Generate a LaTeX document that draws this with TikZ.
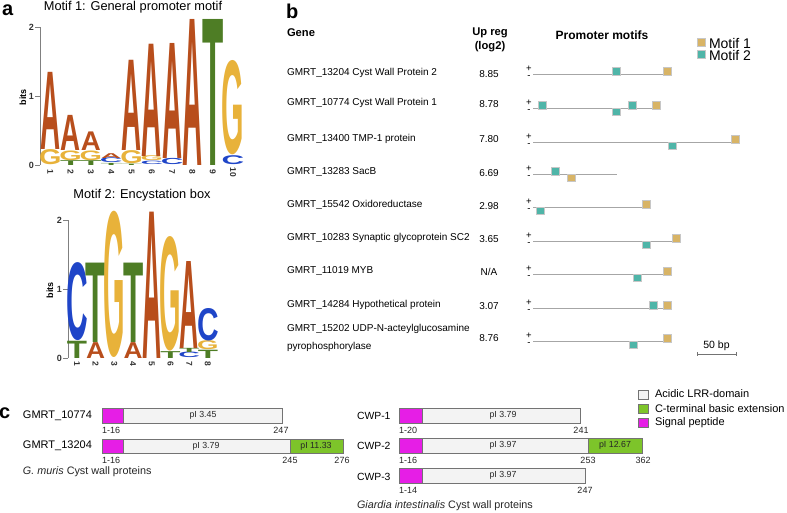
\documentclass[tikz,border=0pt]{standalone}
\usepackage{fontspec}
\setmainfont{Liberation Sans}
\usepackage{graphicx}
\definecolor{lA}{HTML}{B84E1C}
\definecolor{lG}{HTML}{E8B23A}
\definecolor{lT}{HTML}{4E7D25}
\definecolor{lC}{HTML}{1F45C8}
\definecolor{mone}{HTML}{D8B466}
\definecolor{mtwo}{HTML}{4FB5A8}
\definecolor{sigp}{HTML}{E61EE6}
\definecolor{cterm}{HTML}{7DC42A}
\definecolor{lrr}{HTML}{F3F3F3}
\definecolor{axc}{HTML}{808080}
\newcommand{\fsz}[1]{\fontsize{#1}{#1}\selectfont}
\newcommand{\logoL}[5]{%
  \def\lgpad{0}%
  \if G#4\def\lgpad{1.2}\fi
  \if C#4\def\lgpad{1.3}\fi
  \if T#4\def\lgpad{0.6}\fi
  \pgfmathsetmacro\lgX{\lgx+(#1-1)*\lgdx-\lgpad}%
  \pgfmathsetmacro\lgW{\lgw+2*\lgpad}%
  \pgfmathsetmacro\lgB{\lgy-(#2)*\lgbit}%
  \pgfmathsetmacro\lgH{((#3)-(#2))*\lgbit}%
  \node[anchor=south west,inner sep=0pt,outer sep=0pt,text=#5] at (\lgX,\lgB) {\resizebox*{\lgW pt}{\lgH pt}{\bfseries #4}};%
}
\newcommand{\sqp}[3]{\draw[sqb,fill=#3] (#1,#2-6.5) rectangle ++(8.5,7.5);}
\newcommand{\sqm}[3]{\draw[sqb,fill=#3] (#1,#2) rectangle ++(8.5,7.5);}
\tikzset{
  txt/.style={inner sep=0pt,outer sep=0pt},
  panel/.style={txt,anchor=base west,font=\fsz{20}\bfseries},
  ttl/.style={txt,font=\fsz{12.8}},
  axnum/.style={txt,anchor=east,font=\fsz{9}\bfseries,text=black!80},
  colnum/.style={txt,rotate=-90,font=\fsz{8.5}\bfseries,text=black!80},
  axline/.style={draw=axc,line width=0.6pt},
  gene/.style={txt,anchor=west,font=\fsz{10}},
  val/.style={txt,font=\fsz{10}},
  hdr/.style={txt,font=\fsz{11.2}\bfseries},
  strand/.style={txt,font=\fsz{9.5}},
  pline/.style={draw=black!35,line width=0.7pt},
  sqb/.style={draw=black!22,line width=0.5pt},
  cname/.style={txt,anchor=west,font=\fsz{10.6}},
  cbar/.style={draw=black!55,line width=0.6pt},
  pival/.style={txt,font=\fsz{8.8},text=black!85},
  posnum/.style={txt,font=\fsz{9},text=black!85},
  leg/.style={txt,anchor=west,font=\fsz{11}},
}
\begin{document}
\begin{tikzpicture}[x=1pt,y=-1pt]
\useasboundingbox (0,0) rectangle (787,512);
\fill[white] (0,0) rectangle (787,512);

% ---------- panel a ----------
\node[panel] (pa) at (2,15) {a};
\node[ttl] (t1) at (133,7) {Motif 1: General promoter motif};
\draw[axline] (40,27.3) -- (40,165);
\foreach \v/\yy in {0/165,1/96.15,2/27.3}{
  \draw[axline] (35,\yy) -- (40,\yy);
  \node[axnum] (ax1\v) at (34,\yy) {\v};
}
\node[txt,rotate=90,font=\fsz{9}\bfseries] (bits1) at (23,97) {bits};
\def\lgx{40.3}\def\lgdx{20.3}\def\lgw{20}\def\lgy{165}\def\lgbit{68.85}
\logoL{1}{0}{0.22}{G}{lG}
\logoL{1}{0.22}{1.34}{A}{lA}
\logoL{2}{0}{0.07}{T}{lT}
\logoL{2}{0.07}{0.21}{G}{lG}
\logoL{2}{0.21}{0.72}{A}{lA}
\logoL{3}{0}{0.07}{T}{lT}
\logoL{3}{0.07}{0.21}{G}{lG}
\logoL{3}{0.21}{0.48}{A}{lA}
\logoL{4}{0}{0.03}{T}{lT}
\logoL{4}{0.03}{0.1}{C}{lC}
\logoL{4}{0.1}{0.17}{A}{lA}
\logoL{5}{0}{0.02}{T}{lT}
\logoL{5}{0.02}{0.21}{G}{lG}
\logoL{5}{0.21}{1.52}{A}{lA}
\logoL{6}{0.01}{0.06}{C}{lC}
\logoL{6}{0.06}{0.13}{G}{lG}
\logoL{6}{0.13}{1.76}{A}{lA}
\logoL{7}{0}{0.09}{C}{lC}
\logoL{7}{0.09}{1.76}{A}{lA}
\logoL{8}{0}{2.12}{A}{lA}
\logoL{9}{0}{2.12}{T}{lT}
\logoL{10}{0.01}{0.14}{C}{lC}
\logoL{10}{0.15}{1.52}{G}{lG}
\foreach \i in {1,...,10}{
  \pgfmathsetmacro\cx{50.3+(\i-1)*20.3}
  \node[colnum] (n1\i) at (\cx,172) {\i};
}

\node[ttl] (t2) at (142,195) {Motif 2: Encystation box};
\draw[axline] (68,220) -- (68,358);
\foreach \v/\yy in {0/358,1/289,2/220}{
  \draw[axline] (63,\yy) -- (68,\yy);
  \node[axnum] (ax2\v) at (62,\yy) {\v};
}
\node[txt,rotate=90,font=\fsz{9}\bfseries] (bits2) at (50,290) {bits};
\def\lgx{67.5}\def\lgdx{18.7}\def\lgw{19}\def\lgy{358}\def\lgbit{69}
\logoL{1}{0}{0.25}{T}{lT}
\logoL{1}{0.25}{1.38}{C}{lC}
\logoL{2}{0}{0.23}{A}{lA}
\logoL{2}{0.23}{1.38}{T}{lT}
\logoL{3}{0}{2.12}{G}{lG}
\logoL{4}{0}{0.23}{A}{lA}
\logoL{4}{0.23}{1.38}{T}{lT}
\logoL{5}{0}{2.12}{A}{lA}
\logoL{6}{0}{0.1}{T}{lT}
\logoL{6}{0.1}{1.76}{G}{lG}
\logoL{7}{0}{0.08}{C}{lC}
\logoL{7}{0.08}{0.14}{T}{lT}
\logoL{7}{0.14}{1.4}{A}{lA}
\logoL{8}{0}{0.12}{T}{lT}
\logoL{8}{0.12}{0.25}{G}{lG}
\logoL{8}{0.25}{0.72}{C}{lC}
\foreach \i in {1,...,8}{
  \pgfmathsetmacro\cx{77+(\i-1)*18.7}
  \node[colnum] (n2\i) at (\cx,364) {\i};
}

% ---------- panel b ----------
\node[panel] (pb) at (286,18) {b};
\node[hdr,anchor=west] (hg) at (287,33) {Gene};
\node[hdr] (hu) at (490,33) {Up reg};
\node[hdr] (hl) at (490,47) {(log2)};
\node[hdr,font=\fsz{12}\bfseries] (hp) at (602,35) {Promoter motifs};
\draw[sqb,fill=mone] (697,38) rectangle (705.5,46);
\draw[sqb,fill=mtwo] (697,50) rectangle (705.5,58);
\node[leg,font=\fsz{14}] (lm1) at (709,43) {Motif 1};
\node[leg,font=\fsz{14}] (lm2) at (709,55) {Motif 2};

\foreach \k/\ty/\gn/\vv/\ly/\le in {
  1/73/{GMRT\_13204 Cyst Wall Protein 2}/{8.85}/74/670,
  2/103/{GMRT\_10774 Cyst Wall Protein 1}/{8.78}/108/660,
  3/138.5/{GMRT\_13400 TMP-1 protein}/{7.80}/142/739,
  4/172/{GMRT\_13283 SacB}/{6.69}/174/617,
  5/205/{GMRT\_15542 Oxidoreductase}/{2.98}/207/645,
  6/238/{GMRT\_10283 Synaptic glycoprotein SC2}/{3.65}/241/673,
  7/271/{GMRT\_11019 MYB}/{N/A}/274/667,
  8/305/{GMRT\_14284 Hypothetical protein}/{3.07}/308/667}{
  \node[gene] (g\k) at (287,\ty) {\gn};
  \node[val] (v\k) at (489,\ty+1) {\vv};
  \node[strand] (sp\k) at (529,\ly-5.5) {+};
  \node[strand] (sm\k) at (529,\ly+3.5) {-};
  \coordinate (ls\k) at (533,\ly);
  \coordinate (le\k) at (\le,\ly);
  \draw[pline] (ls\k) -- (le\k);
}
\node[gene] (g9a) at (287,329) {GMRT\_15202 UDP-N-acteylglucosamine};
\node[gene] (g9b) at (287,347) {pyrophosphorylase};
\node[val] (v9) at (489,338) {8.76};
\node[strand] (sp9) at (529,335.5) {+};
\node[strand] (sm9) at (529,344.5) {-};
\coordinate (ls9) at (533,341);
\coordinate (le9) at (667,341);
\draw[pline] (ls9) -- (le9);

% squares
\sqp{612}{74}{mtwo} \sqp{663}{74}{mone}
\sqp{538}{108}{mtwo} \sqm{612}{108}{mtwo} \sqp{628}{108}{mtwo} \sqp{652}{108}{mone}
\sqp{731}{142}{mone} \sqm{668}{142}{mtwo}
\sqp{551}{174}{mtwo} \sqm{567}{174}{mone}
\sqp{642}{207}{mone} \sqm{536}{207}{mtwo}
\sqp{672}{241}{mone} \sqm{642}{241}{mtwo}
\sqp{663}{274}{mone} \sqm{633}{274}{mtwo}
\sqp{649}{308}{mtwo} \sqp{663}{308}{mone}
\sqp{663}{341}{mone} \sqm{629}{341}{mtwo}

% scale bar
\coordinate (sb1) at (697,354);
\coordinate (sb2) at (736,354);
\draw[draw=black!55,line width=0.6pt] (sb1) -- (sb2);
\draw[draw=black!55,line width=0.6pt] (697,352) -- (697,356) (736,352) -- (736,356);
\node[txt,font=\fsz{10.5}] (sbl) at (716.5,346) {50 bp};

% ---------- panel c ----------
\node[panel] (pc) at (-1,418.5) {c};
\node[cname,font=\fsz{11}] (c1) at (23,415.5) {GMRT\_10774};
\node[cname,font=\fsz{11}] (c2) at (23,446) {GMRT\_13204};
\node[txt,anchor=west,font=\fsz{10.8},text=black!85] (c3) at (23,472) {\textit{G. muris} Cyst wall proteins};

\draw[cbar,fill=lrr] (102,408) rectangle (282,423);
\draw[cbar,fill=sigp] (102,408) rectangle (123,423);
\node[pival] (p1) at (203,415.5) {pI 3.45};
\node[posnum,anchor=west] (q1a) at (102,430) {1-16};
\node[posnum] (q1b) at (281,430) {247};

\draw[cbar,fill=lrr] (102,439) rectangle (290,453);
\draw[cbar,fill=sigp] (102,439) rectangle (123,453);
\draw[cbar,fill=cterm] (290,439) rectangle (343,453);
\node[pival] (p2) at (206,446) {pI 3.79};
\node[pival] (p3) at (316,446) {pI 11.33};
\node[posnum,anchor=west] (q2a) at (102,460) {1-16};
\node[posnum] (q2b) at (290,460) {245};
\node[posnum] (q2c) at (342,460) {276};

\node[cname,font=\fsz{10.4}] (c4) at (357,415.5) {CWP-1};
\node[cname,font=\fsz{10.4}] (c5) at (357,446) {CWP-2};
\node[cname,font=\fsz{10.4}] (c6) at (357,476.5) {CWP-3};
\node[txt,anchor=west,font=\fsz{10.8},text=black!85] (c7) at (357,506) {\textit{Giardia intestinalis} Cyst wall proteins};

\draw[cbar,fill=lrr] (399,408) rectangle (580,423);
\draw[cbar,fill=sigp] (399,408) rectangle (422,423);
\node[pival] (p4) at (503,415.5) {pI 3.79};
\node[posnum,anchor=west] (q4a) at (399,430) {1-20};
\node[posnum] (q4b) at (581,430) {241};

\draw[cbar,fill=lrr] (399,438) rectangle (588,453);
\draw[cbar,fill=sigp] (399,438) rectangle (422,453);
\draw[cbar,fill=cterm] (588,438) rectangle (642,453);
\node[pival] (p5) at (503,445.5) {pI 3.97};
\node[pival] (p6) at (615,445.5) {pI 12.67};
\node[posnum,anchor=west] (q5a) at (399,460) {1-16};
\node[posnum] (q5b) at (588,460) {253};
\node[posnum] (q5c) at (643,460) {362};

\draw[cbar,fill=lrr] (399,468) rectangle (585,483);
\draw[cbar,fill=sigp] (399,468) rectangle (422,483);
\node[pival] (p7) at (503,475.5) {pI 3.97};
\node[posnum,anchor=west] (q7a) at (399,490) {1-14};
\node[posnum] (q7b) at (585,490) {247};

% legend c
\draw[cbar,fill=lrr] (638,390) rectangle (648,399);
\draw[cbar,fill=cterm] (638,404) rectangle (648,413);
\draw[cbar,fill=sigp] (638,418) rectangle (648,427);
\node[leg] (lg1) at (655,394) {Acidic LRR-domain};
\node[leg] (lg2) at (655,408.5) {C-terminal basic extension};
\node[leg] (lg3) at (655,422.5) {Signal peptide};
\end{tikzpicture}
\end{document}
